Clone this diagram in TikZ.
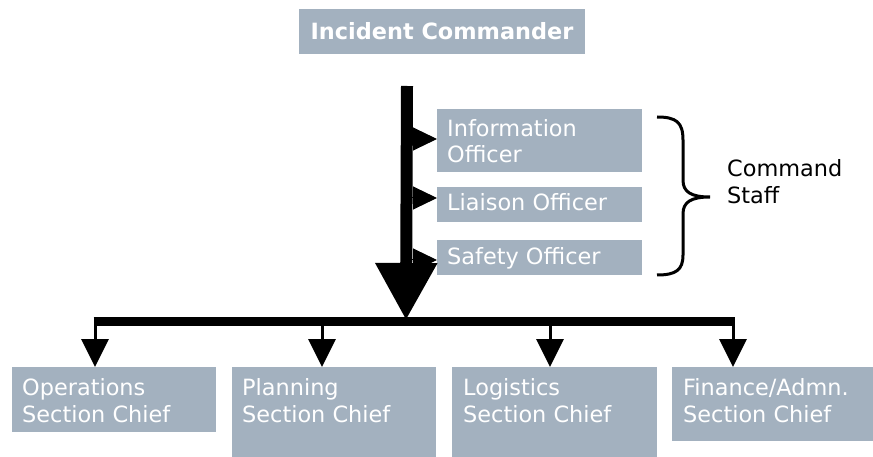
\documentclass[tikz,border=0pt]{standalone}
\usepackage{fontspec}
\setmainfont{DejaVu Sans}
\usetikzlibrary{arrows.meta}
\definecolor{boxc}{RGB}{163,177,191}
\tikzset{
  box/.style={fill=boxc, draw=none, inner sep=0pt, anchor=north west},
  wtxt/.style={text=white, inner sep=0pt, anchor=base west, font=\fontsize{22.4}{27}\selectfont},
  btxt/.style={text=black, inner sep=0pt, anchor=base west, font=\fontsize{22.4}{27}\selectfont},
  bigarrow/.style={line width=12pt, -{Triangle[width=59pt,length=57pt]}},
  smallarrow/.style={line width=1pt, -{Triangle[width=23pt,length=24pt]}},
  drop/.style={line width=3pt, -{Triangle[width=27pt,length=28pt]}},
  barline/.style={line width=8.5pt},
}
\begin{document}
\begin{tikzpicture}[x=1pt,y=-1pt]
\useasboundingbox (0,0) rectangle (873,457);
% top box
\node[box, minimum width=286pt, minimum height=45pt] (ic) at (299,9) {};
\node[text=white, inner sep=0pt, anchor=base, font=\fontsize{22.4}{27}\selectfont\bfseries] (ict) at (442,40) {Incident Commander};
% officer boxes
\node[box, minimum width=205pt, minimum height=63pt] (info) at (437,109) {};
\node[box, minimum width=205pt, minimum height=35pt] (liaison) at (437,187) {};
\node[box, minimum width=205pt, minimum height=35pt] (safety) at (437,240) {};
\node[wtxt] (info1) at (447,137) {Information};
\node[wtxt] (info2) at (447,163) {Officer};
\node[wtxt] (liat) at (447,211) {Liaison Officer};
\node[wtxt] (saft) at (447,265) {Safety Officer};
% section boxes
\node[box, minimum width=204pt, minimum height=65pt] (ops) at (12,367) {};
\node[box, minimum width=204pt, minimum height=90pt] (plan) at (232,367) {};
\node[box, minimum width=205pt, minimum height=90pt] (logi) at (452,367) {};
\node[box, minimum width=201pt, minimum height=74pt] (fin) at (672,367) {};
\node[wtxt] (ops1) at (22,395) {Operations};
\node[wtxt] (ops2) at (22,422) {Section Chief};
\node[wtxt] (plan1) at (242,395) {Planning};
\node[wtxt] (plan2) at (242,422) {Section Chief};
\node[wtxt] (logi1) at (463,395) {Logistics};
\node[wtxt] (logi2) at (463,422) {Section Chief};
\node[wtxt] (fin1) at (683,395) {Finance/Admn.};
\node[wtxt] (fin2) at (683,422) {Section Chief};
% command staff
\node[btxt] (cs1) at (727,177) {Command};
\node[btxt] (cs2) at (727,204) {Staff};
% main arrow
\coordinate (top) at (407,86);
\coordinate (junc) at (406,320);
\draw[bigarrow] (top) -- (junc);
% small arrows to officers
\coordinate (s1) at (406,139);
\coordinate (s2) at (406,198);
\coordinate (s3) at (406,260);
\draw[smallarrow] (s1) -- (s1 -| info.west);
\draw[smallarrow] (s2) -- (s2 -| liaison.west);
\draw[smallarrow] (s3) -- (s3 -| safety.west);
% bar and drops
\coordinate (b1) at (95,321.5);
\coordinate (b2) at (322,321.5);
\coordinate (b3) at (550,321.5);
\coordinate (b4) at (733,321.5);
\draw[barline] ([xshift=-1.5pt]b1) -- ([xshift=1.5pt]b4);
\draw[drop] (b1) -- (b1 |- ops.north);
\draw[drop] (b2) -- (b2 |- plan.north);
\draw[drop] (b3) -- (b3 |- logi.north);
\draw[drop] (b4) -- (b4 |- fin.north);
% brace
\draw[line width=3pt] (657,117) .. controls (676,117) and (683,122) .. (683,140)
  -- (683,180) .. controls (683,192) and (691,197) .. (710,197)
  .. controls (691,197) and (683,202) .. (683,214)
  -- (683,255) .. controls (683,270) and (676,275) .. (657,275);
\end{tikzpicture}
\end{document}
